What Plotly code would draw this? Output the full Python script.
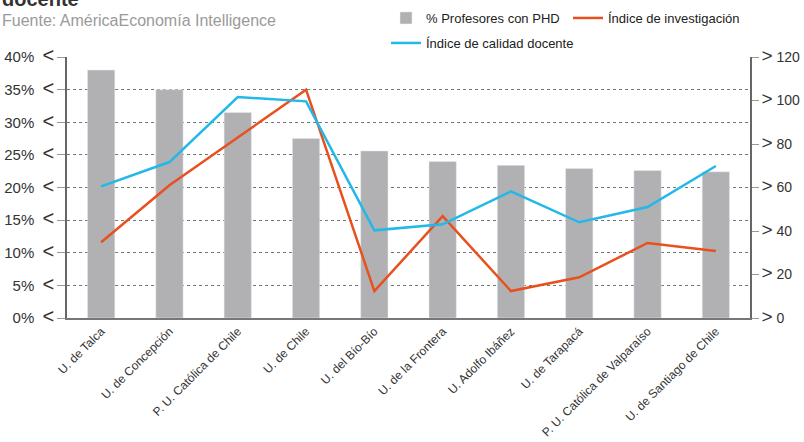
import plotly.graph_objects as go

categories = ["U. de Talca", "U. de Concepción", "P. U. Católica de Chile", "U. de Chile",
              "U. del Bío-Bío", "U. de la Frontera", "U. Adolfo Ibáñez", "U. de Tarapacá",
              "P. U. Católica de Valparaíso", "U. de Santiago de Chile"]
phd_pct = [38.0, 35.0, 31.5, 27.5, 25.6, 24.0, 23.4, 22.9, 22.6, 22.4]
indice_investigacion = [34.8, 61, 83, 105, 12.4, 46.8, 12.4, 18.7, 34.5, 30.8]
indice_calidad = [60.5, 71.7, 101.6, 99.6, 40.3, 43.1, 58.2, 44.0, 51.0, 69.9]

left_ticks = [0, 5, 10, 15, 20, 25, 30, 35, 40]
right_ticks = [0, 20, 40, 60, 80, 100, 120]

FONT = "Liberation Sans, Arial, sans-serif"
W, H = 804, 442
L, R, T, B = 67, 54, 57, 124
PH = H - T - B

def py(p):
    return (H - B - p) / PH

def px(p):
    return (p - L) / (W - L - R)

CHEV_L = "<span style='font-size:20px'>&lt;</span>"
CHEV_R = "<span style='font-size:19px'>&gt;</span>"

fig = go.Figure()
fig.add_trace(go.Bar(x=categories, y=phd_pct, name="% Profesores con PHD",
                     marker_color="#b1b1b3", width=0.4, yaxis="y", legend="legend"))
fig.add_trace(go.Scatter(x=categories, y=indice_investigacion, name="Índice de investigación",
                         mode="lines", line=dict(color="#e8501e", width=2.5), yaxis="y2",
                         legend="legend"))
fig.add_trace(go.Scatter(x=categories, y=indice_calidad, name="Índice de calidad docente",
                         mode="lines", line=dict(color="#22b8e8", width=2.5), yaxis="y2",
                         legend="legend2"))

legend_common = dict(orientation="h", xanchor="left", yanchor="middle",
                     font=dict(size=13, color="#222", family=FONT),
                     bgcolor="rgba(0,0,0,0)", itemwidth=30, borderwidth=0)

fig.update_layout(
    width=W, height=H,
    margin=dict(l=L, r=R, t=T, b=B, pad=0, autoexpand=False),
    paper_bgcolor="white", plot_bgcolor="white",
    font=dict(family=FONT, color="#333333", size=14),
    showlegend=True,
    legend=dict(x=px(386), y=py(18), entrywidth=137, entrywidthmode="pixels", **legend_common),
    legend2=dict(x=px(386), y=py(43), **legend_common),
    xaxis=dict(tickangle=-45, tickfont=dict(size=12, color="#333"), showgrid=False,
               showline=True, linecolor="#777", linewidth=1.5, ticks="",
               range=[-0.5, 9.5], automargin=False),
    yaxis=dict(range=[0, 40], tickvals=left_ticks,
               ticktext=[f"{v}%  {CHEV_L}" for v in left_ticks],
               tickfont=dict(size=15, color="#333"),
               showgrid=True, gridcolor="#777", griddash="dot", gridwidth=1,
               showline=True, linecolor="#666", linewidth=1.5,
               ticks="outside", ticklen=8, tickcolor="#999", zeroline=False,
               automargin=False),
    yaxis2=dict(range=[0, 120], tickvals=right_ticks,
                ticktext=[f"{CHEV_R} {v}" for v in right_ticks],
                tickfont=dict(size=14, color="#333"),
                overlaying="y", side="right", showgrid=False,
                showline=True, linecolor="#666", linewidth=1.5,
                ticks="outside", ticklen=7, tickcolor="#999", zeroline=False,
                automargin=False),
    annotations=[
        dict(text="<b>docente</b>", xref="paper", yref="paper", x=px(0), y=py(12),
             xanchor="left", yanchor="bottom", showarrow=False,
             font=dict(size=20, color="#333")),
        dict(text="Fuente: AméricaEconomía Intelligence", xref="paper", yref="paper",
             x=px(0), y=py(21), xanchor="left", yanchor="middle", showarrow=False,
             font=dict(size=16, color="#9a9a9a")),
    ],
)

fig.write_html("out.html", config={"displayModeBar": False},
               post_script="document.body.style.margin='0px';")
